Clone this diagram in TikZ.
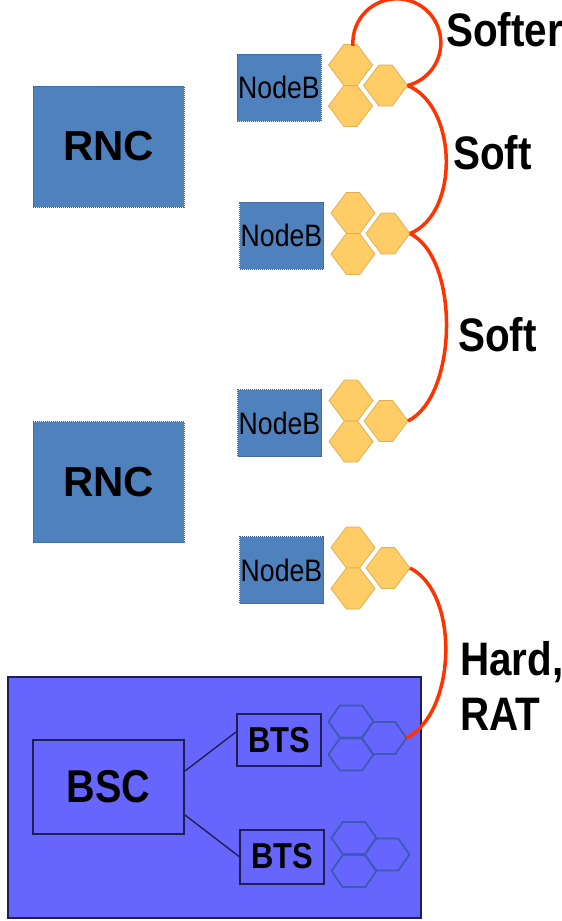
\documentclass[tikz,border=0pt]{standalone}
\usepackage{fontspec}
\setmainfont{Liberation Sans}
\newfontfamily\narrowsf{Liberation Sans}[FakeStretch=0.86]
\definecolor{umtsblue}{RGB}{79,129,189}
\definecolor{umtsline}{RGB}{56,93,138}
\definecolor{cellfill}{RGB}{255,204,102}
\definecolor{celledge}{RGB}{222,176,84}
\definecolor{gsmviolet}{RGB}{102,102,255}
\definecolor{gsmedge}{RGB}{32,32,80}
\definecolor{gsmhex}{RGB}{60,90,180}
\definecolor{hored}{RGB}{255,51,0}

\newcommand{\hexcell}[3]{\draw[#1] (#3) +(-1,0) -- +(-#2,1) -- +(#2,1) -- +(1,0) -- +(#2,-1) -- +(-#2,-1) -- cycle;}
\newcommand{\cellgroup}[6]{%
  \coordinate (#1-t) at ([xshift=29pt,yshift=2pt+#3]#1.east);
  \coordinate (#1-b) at ([xshift=29pt,yshift=2pt-#3]#1.east);
  \coordinate (#1-r) at ([xshift=29pt+#4,yshift=2pt]#1.east);
  \coordinate (#1-out) at ([xshift=29pt+#4+#5,yshift=2pt]#1.east);
  \hexcell{#2}{#6}{#1-t}\hexcell{#2}{#6}{#1-b}\hexcell{#2}{#6}{#1-r}}

\begin{document}
\begin{tikzpicture}[x=1pt, y=1pt,
  rncbox/.style={draw=umtsline, densely dotted, line width=1pt, fill=umtsblue, minimum width=151pt, minimum height=121pt, font=\bfseries\fontsize{42}{50}\selectfont},
  nodeb/.style={draw=umtsline, densely dotted, line width=1pt, fill=umtsblue, minimum width=84pt, minimum height=67pt, inner sep=0pt, font=\narrowsf\fontsize{31}{36}\selectfont},
  gsmbox/.style={draw=gsmedge, line width=2pt, inner sep=0pt, font=\narrowsf\bfseries\fontsize{#1}{#1}\selectfont},
  ycell/.style={x=22pt, y=20.5pt, draw=celledge, line width=.8pt, fill=cellfill},
  bcell/.style={x=22.5pt, y=16pt, draw=gsmhex, line width=1.8pt},
  handover/.style={draw=hored, line width=3.5pt},
  holabel/.style={anchor=base west, inner sep=0pt, font=\narrowsf\bfseries\fontsize{47}{56}\selectfont}]
  \useasboundingbox (0,0) rectangle (562,-921);

  \node[rncbox] (rnc1) at (108.5,-146.5) {RNC};
  \node[rncbox] (rnc2) at (108.5,-482) {RNC};
  \node[nodeb] (nb1) at (279,-87.5) {NodeB};
  \node[nodeb] (nb2) at (281.5,-235.5) {NodeB};
  \node[nodeb] (nb3) at (279.5,-423) {NodeB};
  \node[nodeb] (nb4) at (281.5,-570) {NodeB};

  \node[draw=gsmedge, line width=1.5pt, fill=gsmviolet, minimum width=413pt, minimum height=241pt] (gsm) at (214.5,-797.5) {};
  \node[gsmbox=46, minimum width=151pt, minimum height=94pt] (bsc) at (108.5,-787) {BSC};
  \node[gsmbox=36, minimum width=84pt, minimum height=52pt] (bts1) at (279,-740) {BTS};
  \node[gsmbox=36, minimum width=84pt, minimum height=54pt] (bts2) at (282,-856.5) {BTS};
  \draw[gsmedge, line width=1.4pt] ([yshift=16pt]bsc.east) -- ([yshift=8pt]bts1.west);
  \draw[gsmedge, line width=1.4pt] ([yshift=-28pt]bsc.east) -- (bts2.west);

  \foreach \b in {nb1,nb2,nb3,nb4}
    {\cellgroup{\b}{ycell}{20.5pt}{35pt}{22pt}{.3}}
  \foreach \b in {bts1,bts2}
    {\cellgroup{\b}{bcell}{16.5pt}{33pt}{22.5pt}{.5}}

  \draw[handover] (nb1-out) arc[start angle=-76, end angle=184, radius=44pt];
  \draw[handover] (nb1-out) .. controls +(50,-20) and +(50,20) .. (nb2-out);
  \draw[handover] (nb2-out) .. controls +(50,-25) and +(50,25) .. (nb3-out);
  \draw[handover] (nb4-out) .. controls +(50,-25) and +(50,25) .. (bts1-out);

  \node[holabel] (softer) at (446,-46) {Softer};
  \node[holabel] (soft1) at (453,-169) {Soft};
  \node[holabel] (soft2) at (458,-351) {Soft};
  \node[holabel] (hard) at (460,-675) {Hard,};
  \node[holabel] (rat) at ([yshift=-55pt]hard.base west) {RAT};
\end{tikzpicture}
\end{document}
